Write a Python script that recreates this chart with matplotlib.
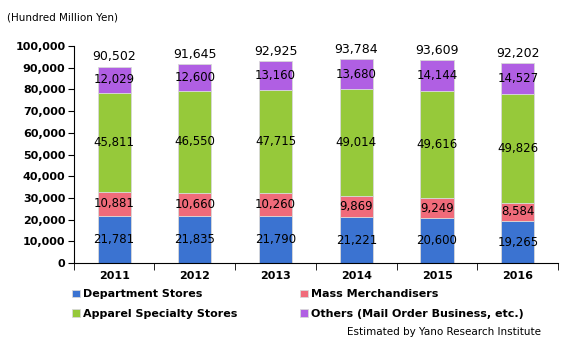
import numpy as np
import matplotlib.pyplot as plt

years = ['2011', '2012', '2013', '2014', '2015', '2016']
dept = [21781, 21835, 21790, 21221, 20600, 19265]
mass = [10881, 10660, 10260, 9869, 9249, 8584]
apparel = [45811, 46550, 47715, 49014, 49616, 49826]
others = [12029, 12600, 13160, 13680, 14144, 14527]
totals = [90502, 91645, 92925, 93784, 93609, 92202]

names = ['Department Stores', 'Mass Merchandisers',
         'Apparel Specialty Stores', 'Others (Mail Order Business, etc.)']
colors = ['#3b73d1', '#f06b7a', '#96c93a', '#b05fe3']
series = [dept, mass, apparel, others]

fig = plt.figure(figsize=(5.76, 3.56), dpi=100)
ax = fig.add_axes([0.128, 0.261, 0.841, 0.610])

x = np.arange(len(years))
bottom = np.zeros(len(years))
handles = []
for vals, c, n in zip(series, colors, names):
    b = ax.bar(x, vals, 0.41, bottom=bottom, color=c, edgecolor='#d8d8d8',
               linewidth=0.6, label=n)
    handles.append(b)
    for xi, v, bt in zip(x, vals, bottom):
        ax.text(xi, bt + v / 2, f'{v:,}', ha='center', va='center',
                fontsize=8.5, color='black')
    bottom += np.array(vals)

for xi, t, bt in zip(x, totals, bottom):
    ax.text(xi, bt + 1500, f'{t:,}', ha='center', va='bottom', fontsize=9)

ax.set_xlim(-0.5, len(years) - 0.5)
ax.set_ylim(0, 100000)
ax.set_yticks(np.arange(0, 100001, 10000))
ax.set_yticklabels([f'{v:,}' for v in range(0, 100001, 10000)],
                   fontsize=8, fontweight='bold')
ax.set_xticks(x)
ax.set_xticklabels(years, fontsize=8, fontweight='bold')
ax.set_xticks(np.arange(-0.5, len(years)), minor=True)
ax.tick_params(axis='x', which='major', length=0, pad=6)
ax.tick_params(axis='x', which='minor', length=5, direction='out')
ax.tick_params(axis='y', length=4, direction='out', pad=2)
for s in ['top', 'right']:
    ax.spines[s].set_visible(False)

fig.text(0.012, 0.952, '(Hundred Million Yen)', fontsize=7.5, va='center')

order = [0, 2, 1, 3]
fig.legend([handles[i] for i in order], [names[i] for i in order],
           loc='upper left', bbox_to_anchor=(0.108, 0.215), ncol=2,
           frameon=False, prop={'weight': 'bold', 'size': 8},
           handlelength=0.7, handleheight=0.7, handletextpad=0.3,
           columnspacing=5.6, labelspacing=0.85)

fig.text(0.94, 0.068, 'Estimated by Yano Research Institute', fontsize=7.5,
         ha='right', va='center')

fig.savefig('out.png', dpi=100)
